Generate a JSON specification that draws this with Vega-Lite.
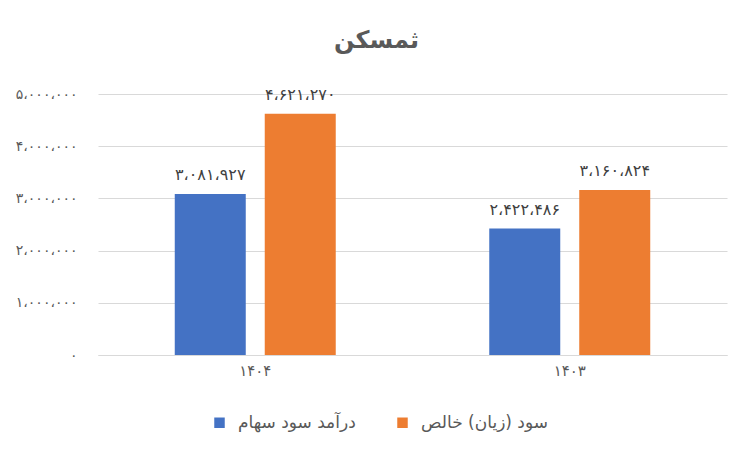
{
  "$schema": "https://vega.github.io/schema/vega-lite/v6.json",
  "width": 629,
  "height": 261,
  "autosize": {"type": "none"},
  "padding": {"left": 98, "top": 94, "right": 25, "bottom": 97},
  "background": "white",
  "title": {
    "text": "ثمسکن",
    "font": "DejaVu Sans",
    "fontSize": 24,
    "fontWeight": "bold",
    "color": "#595959",
    "anchor": "middle",
    "dx": -36,
    "offset": 34
  },
  "data": {
    "values": [
      {"year": "۱۴۰۴", "series": "درآمد سود سهام", "value": 3081927, "label": "۳،۰۸۱،۹۲۷"},
      {"year": "۱۴۰۴", "series": "سود (زیان) خالص", "value": 4621270, "label": "۴،۶۲۱،۲۷۰"},
      {"year": "۱۴۰۳", "series": "درآمد سود سهام", "value": 2422486, "label": "۲،۴۲۲،۴۸۶"},
      {"year": "۱۴۰۳", "series": "سود (زیان) خالص", "value": 3160824, "label": "۳،۱۶۰،۸۲۴"}
    ]
  },
  "encoding": {
    "x": {
      "field": "year",
      "type": "nominal",
      "sort": ["۱۴۰۴", "۱۴۰۳"],
      "scale": {"paddingInner": 0, "paddingOuter": 0},
      "axis": {
        "title": null,
        "labelAngle": 0,
        "ticks": false,
        "domain": true,
        "domainColor": "#D9D9D9",
        "domainWidth": 1,
        "labelFont": "DejaVu Sans",
        "labelFontSize": 15,
        "labelColor": "#595959",
        "labelPadding": 8
      }
    },
    "xOffset": {
      "field": "series",
      "type": "nominal",
      "sort": ["درآمد سود سهام", "سود (زیان) خالص"],
      "scale": {"paddingInner": 0.211, "paddingOuter": 0.853}
    },
    "y": {
      "field": "value",
      "type": "quantitative",
      "scale": {"domain": [0, 5000000], "nice": false},
      "axis": {
        "title": null,
        "values": [0, 1000000, 2000000, 3000000, 4000000, 5000000],
        "labelExpr": "datum.value == 0 ? '۰' : ['','۱','۲','۳','۴','۵'][round(datum.value/1000000)] + '،۰۰۰،۰۰۰'",
        "ticks": false,
        "domain": false,
        "grid": true,
        "gridColor": "#D9D9D9",
        "gridWidth": 1,
        "labelFont": "DejaVu Sans",
        "labelFontSize": 14,
        "labelColor": "#595959",
        "labelPadding": 21
      }
    }
  },
  "layer": [
    {
      "mark": {"type": "bar"},
      "encoding": {
        "color": {
          "field": "series",
          "type": "nominal",
          "sort": ["درآمد سود سهام", "سود (زیان) خالص"],
          "scale": {"domain": ["درآمد سود سهام", "سود (زیان) خالص"], "range": ["#4472C4", "#ED7D31"]},
          "legend": {
            "title": null,
            "orient": "none",
            "direction": "horizontal",
            "legendX": 113,
            "legendY": 320,
            "symbolType": "square",
            "symbolSize": 110,
            "symbolStrokeWidth": 0,
            "labelFont": "DejaVu Sans",
            "labelFontSize": 17,
            "labelColor": "#595959",
            "columnPadding": 38,
            "labelOffset": 10
          }
        }
      }
    },
    {
      "mark": {"type": "text", "baseline": "middle", "dy": -19, "font": "DejaVu Sans", "fontSize": 16, "fontWeight": "normal", "color": "#404040"},
      "encoding": {
        "text": {"field": "label", "type": "nominal"}
      }
    }
  ],
  "config": {
    "view": {"stroke": null}
  }
}
